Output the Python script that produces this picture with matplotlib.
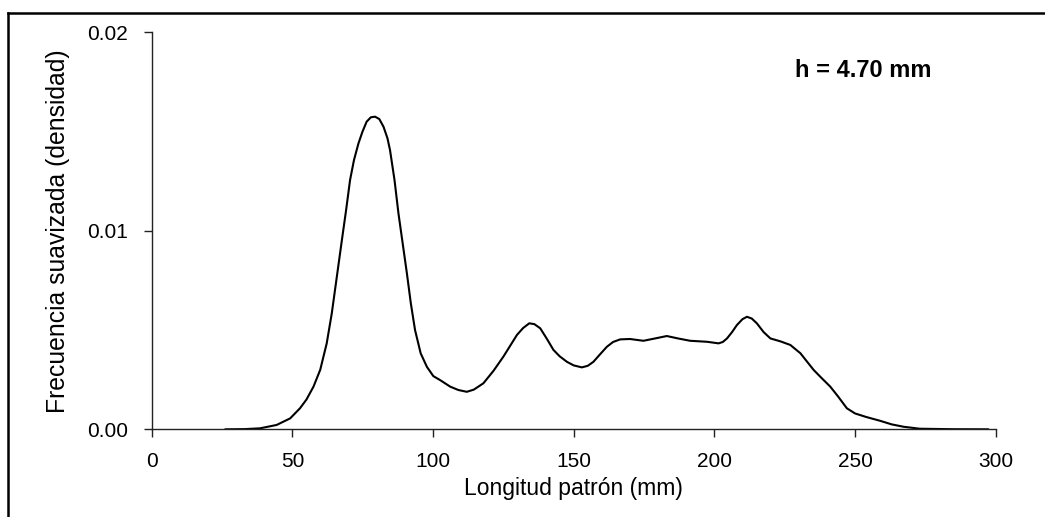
import matplotlib
matplotlib.use("Agg")
import matplotlib.pyplot as plt
from matplotlib.lines import Line2D

plt.rcParams["font.family"] = ["Liberation Sans", "DejaVu Sans"]

# ---- data ----
longitud = [26.1, 33.0, 38.5, 44.4, 49.2, 52.7, 55.0, 57.5, 59.9, 62.2, 64.0,
            65.8, 67.6, 69.1, 70.5, 71.9, 73.5, 74.9, 76.4, 77.9, 79.4, 80.9,
            82.4, 83.8, 84.7, 86.3, 87.7, 89.2, 90.7, 92.1, 93.6, 95.6, 97.8,
            100.1, 102.5, 106.1, 109.0, 112.0, 114.5, 117.9, 121.5, 125.0,
            129.8, 132.0, 134.2, 136.0, 138.1, 140.5, 142.8, 145.0, 147.6,
            150.0, 152.9, 155.0, 157.0, 159.5, 161.8, 164.0, 166.5, 170.0,
            174.8, 179.0, 183.1, 187.0, 191.4, 197.4, 201.5, 203.0, 204.5,
            206.3, 208.0, 210.0, 211.6, 213.3, 215.1, 217.5, 219.9, 223.5,
            227.0, 230.6, 233.0, 235.3, 238.0, 241.2, 244.0, 247.1, 250.0,
            254.0, 258.9, 263.0, 267.2, 273.0, 285.0, 297.4]
densidad = [0.0, 0.00001, 0.00005, 0.00022, 0.00055, 0.00106, 0.0015,
            0.00215, 0.0030, 0.00433, 0.00584, 0.00769, 0.00954, 0.01105,
            0.01256, 0.01357, 0.01441, 0.01499, 0.0155, 0.01572, 0.01575,
            0.01563, 0.01524, 0.01466, 0.01407, 0.01256, 0.01088, 0.00937,
            0.00786, 0.00635, 0.0050, 0.00383, 0.00315, 0.00268, 0.00248,
            0.00215, 0.00198, 0.00189, 0.00200, 0.00232, 0.00295, 0.00366,
            0.00475, 0.0051, 0.00534, 0.0053, 0.00509, 0.00455, 0.0040,
            0.00368, 0.0034, 0.00322, 0.00312, 0.0032, 0.0034, 0.0038,
            0.00416, 0.0044, 0.00453, 0.00455, 0.00446, 0.00458, 0.0047,
            0.00458, 0.00446, 0.00441, 0.00433, 0.0044, 0.00458, 0.0049,
            0.00525, 0.00555, 0.00567, 0.00558, 0.00534, 0.0049, 0.00458,
            0.00443, 0.00425, 0.00383, 0.0034, 0.00299, 0.0026, 0.00215,
            0.00165, 0.00106, 0.0008, 0.00062, 0.00043, 0.00025, 0.00013,
            0.00003, 0.000005, 0.0]

x_ticks = [0, 50, 100, 150, 200, 250, 300]
y_ticks = [0.0, 0.01, 0.02]
bandwidth_label = "h = 4.70 mm"

fig = plt.figure(figsize=(10.45, 5.17), dpi=100)
ax = fig.add_axes([0.1452, 0.1696, 0.8076, 0.7679])

ax.plot(longitud, densidad, color="black", lw=1.5,
        solid_joinstyle="round", solid_capstyle="round")

ax.set_xlim(0, 300)
ax.set_ylim(0, 0.02)
ax.set_xticks(x_ticks)
ax.set_yticks(y_ticks)
ax.set_yticklabels([f"{v:.2f}" for v in y_ticks])

for s in ("top", "right"):
    ax.spines[s].set_visible(False)
for s in ("left", "bottom"):
    ax.spines[s].set_linewidth(1.0)
    ax.spines[s].set_color("#222222")

ax.tick_params(direction="out", length=6, width=1.0, color="#222222",
               labelsize=15, pad=10)
ax.tick_params(axis="y", pad=11)

ax.set_xlabel("Longitud patrón (mm)", fontsize=16.5, labelpad=5)
ax.set_ylabel("Frecuencia suavizada (densidad)", fontsize=17.8, labelpad=12)

ax.text(252.9, 0.01807, bandwidth_label, fontsize=17, fontweight="bold",
        ha="center", va="center")

# outer frame (left and top edges of a cropped box)
x0, y0 = 8 / 1045, 1 - 12.7 / 517
fig.add_artist(Line2D([x0, x0], [0, y0], transform=fig.transFigure,
                      color="black", lw=1.8))
fig.add_artist(Line2D([x0, 1.0], [y0, y0], transform=fig.transFigure,
                      color="black", lw=1.8))

fig.savefig("out.png", dpi=100)
